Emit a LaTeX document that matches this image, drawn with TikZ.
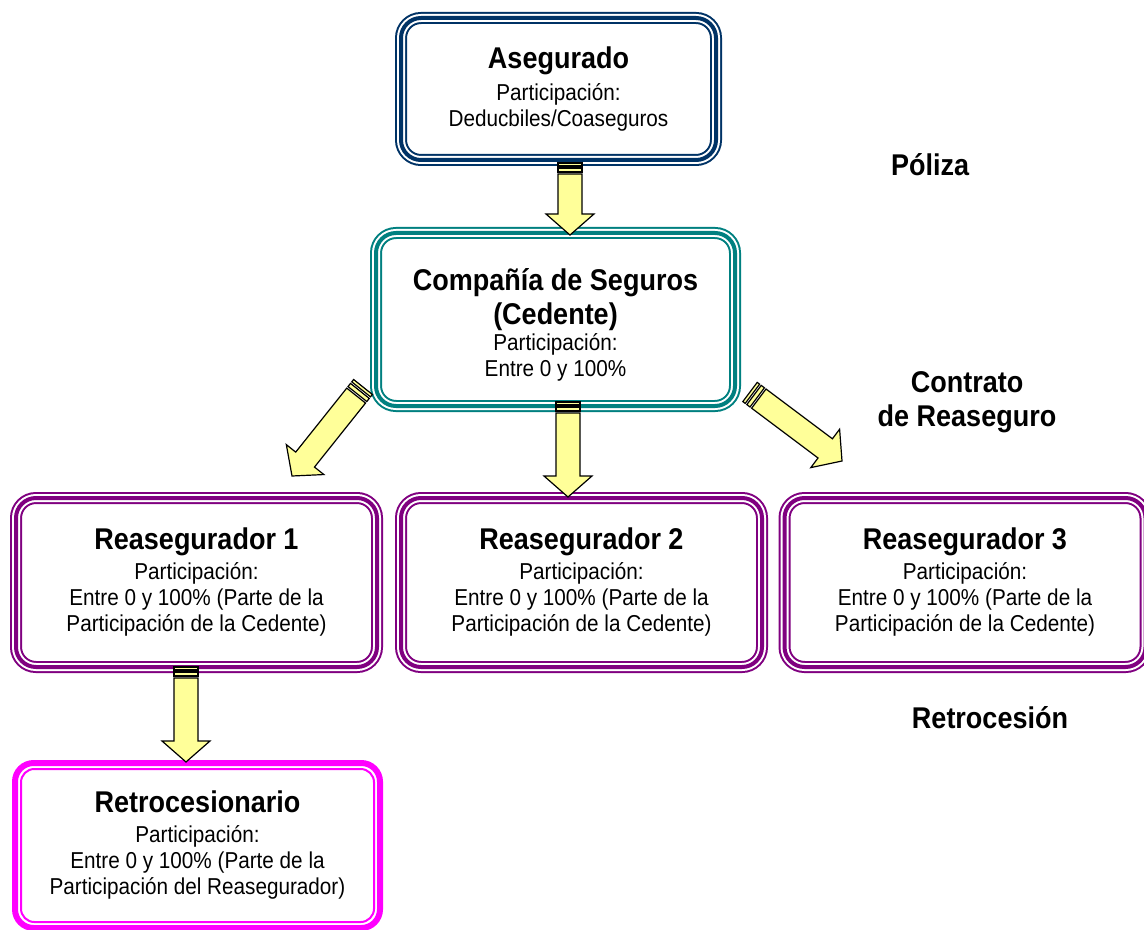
\documentclass[tikz,border=0pt]{standalone}
\usepackage{fontspec}
\setmainfont{Liberation Sans}[FakeStretch=0.9]
\usetikzlibrary{calc}

\definecolor{azulAseg}{RGB}{0,51,102}
\definecolor{verdeCed}{RGB}{0,128,128}
\definecolor{moradoRea}{RGB}{128,0,128}
\definecolor{rosaRetro}{RGB}{255,0,255}
\definecolor{amarilloFl}{RGB}{255,255,153}

\newcommand{\titulo}[1]{{\fontsize{22.5pt}{25pt}\selectfont\bfseries #1}}
% block arrow with striped tail, from tail point #1 to tip point #2
\newcommand{\flecha}[2]{%
	\coordinate (fa) at ($(#1)!2.25pt!(#2)$);
	\coordinate (fb) at ($(#1)!3.75pt!(#2)$);
	\coordinate (fc) at ($(#1)!6.75pt!(#2)$);
	\coordinate (fd) at ($(#1)!8.25pt!(#2)$);
	\coordinate (fe) at ($(#2)!15.75pt!(#1)$);
	\draw[flechaest] ($(#1)!9pt!90:(#2)$) -- ($(#1)!9pt!-90:(#2)$)
		-- ($(fa)!9pt!-90:(#2)$) -- ($(fa)!9pt!90:(#2)$) -- cycle;
	\draw[flechaest] ($(fb)!9pt!90:(#2)$) -- ($(fb)!9pt!-90:(#2)$)
		-- ($(fc)!9pt!-90:(#2)$) -- ($(fc)!9pt!90:(#2)$) -- cycle;
	\draw[flechaest] ($(fd)!9pt!90:(#2)$) -- ($(fe)!9pt!90:(#2)$) -- ($(fe)!18pt!90:(#2)$)
		-- (#2) -- ($(fe)!18pt!-90:(#2)$) -- ($(fe)!9pt!-90:(#2)$)
		-- ($(fd)!9pt!-90:(#2)$) -- cycle;}

\begin{document}
\begin{tikzpicture}[x=0.75pt,y=0.75pt,yscale=-1,xscale=1,
		caja/.style={rounded corners=15pt, line width=9pt, draw=#1, fill=white,
			outer sep=0pt, inner sep=0pt, align=center,
			font=\fontsize{17.25pt}{19.5pt}\selectfont,
			postaction={draw=white, line width=6pt},
			postaction={draw=#1, line width=3pt}},
		flechaest/.style={draw=black, fill=amarilloFl, line width=0.9pt, line join=miter},
		etiqueta/.style={align=center, font=\fontsize{22.5pt}{25.5pt}\selectfont\bfseries}]
	\useasboundingbox (0,0) rectangle (1144,930);
	
	% Boxes
	\node[caja=azulAseg, minimum width=236.25pt, minimum height=106.5pt] (aseg) at (558.5,89)
		{\titulo{Asegurado}\\[4.5pt] Participación:\\ Deducbiles/Coaseguros};
	\node[caja=verdeCed, minimum width=269.25pt, minimum height=129.75pt] (comp) at (555.5,319.5)
		{\rule{0pt}{24pt}\titulo{Compañía de Seguros}\\[4pt] \titulo{(Cedente)}\\[-0.5pt] Participación:\\ Entre 0 y 100\%};
	\node[caja=moradoRea, minimum width=270.75pt, minimum height=126.75pt] (rea1) at (196.5,582.5)
		{\titulo{Reasegurador 1}\\[3pt] Participación:\\ Entre 0 y 100\% (Parte de la\\ Participación de la Cedente)};
	\node[caja=moradoRea, minimum width=270.75pt, minimum height=126.75pt] (rea2) at (581.5,582.5)
		{\titulo{Reasegurador 2}\\[3pt] Participación:\\ Entre 0 y 100\% (Parte de la\\ Participación de la Cedente)};
	\node[caja=moradoRea, minimum width=270.75pt, minimum height=126.75pt] (rea3) at (965,582.5)
		{\titulo{Reasegurador 3}\\[3pt] Participación:\\ Entre 0 y 100\% (Parte de la\\ Participación de la Cedente)};
	\node[draw=rosaRetro, line width=1.5pt, rounded corners=10pt, fill=white, outer sep=0pt,
		inner sep=0pt, align=center, font=\fontsize{17.25pt}{19.5pt}\selectfont,
		minimum width=264.75pt, minimum height=114.75pt] (retro) at (197.5,845.5)
		{\titulo{Retrocesionario}\\[3pt] Participación:\\ Entre 0 y 100\% (Parte de la\\ Participación del Reasegurador)};
	\draw[rosaRetro, line width=4.5pt, rounded corners=14pt]
		($(retro.north west)+(-6,-6)$) rectangle ($(retro.south east)+(6,6)$);
	
	% Arrows
	\coordinate (c1) at ($(aseg.south)+(11.5,3)$);
	\coordinate (c2) at ($(comp.north)+(14.5,2)$);
	\coordinate (c3) at ($(comp.south)+(12.5,-4)$);
	\coordinate (c4) at ($(rea2.north)+(-13.5,-1)$);
	\coordinate (c5) at ($(comp.south west)+(-13,-19)$);
	\coordinate (c6) at ($(rea1.north)+(95.5,-22)$);
	\coordinate (c7) at ($(comp.south east)+(15,-14)$);
	\coordinate (c8) at ($(rea3.north)+(-123,-37)$);
	\coordinate (c9) at ($(rea1.south)+(-10.5,0)$);
	\coordinate (c10) at ($(retro.north)+(-11.5,-7)$);
	\flecha{c1}{c2}
	\flecha{c3}{c4}
	\flecha{c5}{c6}
	\flecha{c7}{c8}
	\flecha{c9}{c10}
	
	% Text Node
	\node[etiqueta] (poliza) at (930,165) {Póliza};
	\node[etiqueta] (contrato) at (967,402) {Contrato\\de Reaseguro};
	\node[etiqueta] (retrocesion) at (990,718) {Retrocesión};
\end{tikzpicture}
\end{document}
